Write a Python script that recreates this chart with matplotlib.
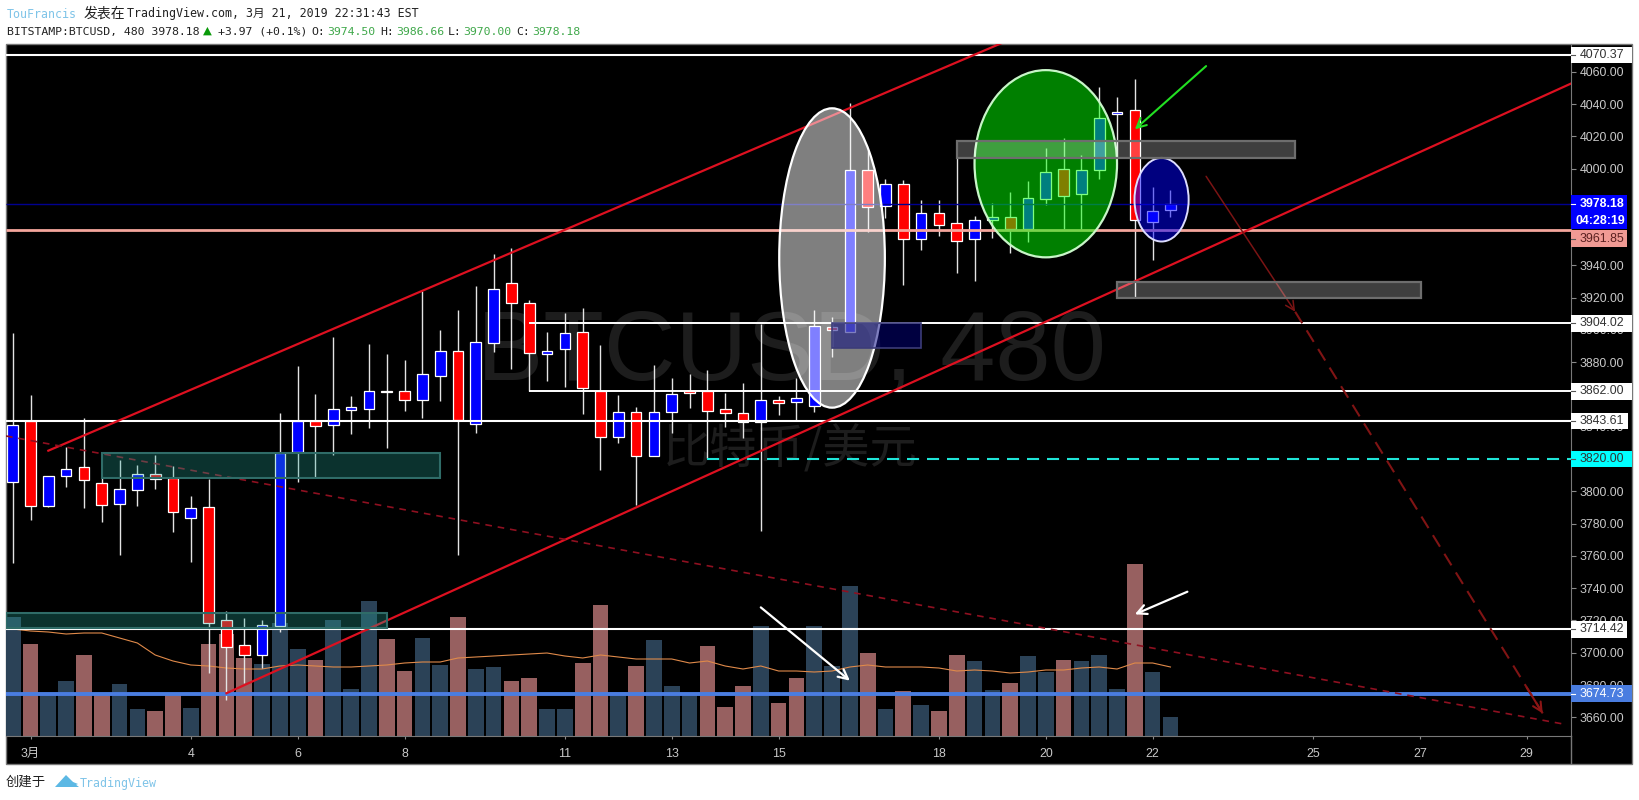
import matplotlib
matplotlib.use("Agg")
import matplotlib.pyplot as plt
from matplotlib.patches import Rectangle, Ellipse, Polygon

W = 1639
H = 800

opens = [3805.6, 3843.5, 3791.1, 3809.7, 3814.9, 3804.9, 3792.3, 3800.8, 3810.7, 3808.0, 3783.4,
         3790.1, 3720.2, 3704.6, 3698.8, 3716.5, 3824.2, 3843.5, 3841.3, 3850.4, 3851.2, 3862.0,
         3862.3, 3856.7, 3871.6, 3886.7, 3841.5, 3892.1, 3928.9, 3916.5, 3885.1, 3888.3, 3898.5,
         3862.0, 3833.8, 3848.9, 3822.0, 3849.3, 3862.1, 3862.0, 3850.8, 3848.3, 3842.7, 3856.6,
         3855.5, 3853.1, 3902.0, 3898.9, 3999.1, 3976.9, 3990.2, 3956.3, 3972.2, 3966.0, 3956.3,
         3968.1, 3970.1, 3962.3, 3980.9, 3999.5, 3984.0, 3998.9, 4033.8, 4036.1, 3967.0, 3974.50]
closes = [3841.1, 3791.1, 3809.7, 3813.6, 3807.0, 3791.7, 3801.2, 3810.5, 3807.4, 3787.4, 3789.5,
          3718.2, 3703.3, 3698.8, 3717.0, 3823.9, 3843.5, 3840.6, 3850.8, 3852.2, 3862.0, 3861.3,
          3856.7, 3872.5, 3886.7, 3844.2, 3892.3, 3925.1, 3916.5, 3885.5, 3886.9, 3897.9, 3864.2,
          3833.8, 3849.3, 3822.0, 3848.9, 3860.1, 3861.1, 3849.9, 3848.7, 3842.7, 3856.4, 3854.9,
          3857.8, 3902.4, 3899.9, 3999.1, 3976.3, 3990.2, 3956.3, 3972.2, 3965.2, 3955.1, 3967.9,
          3970.1, 3962.3, 3981.5, 3998.0, 3983.0, 3998.9, 4031.5, 4035.2, 3968.1, 3973.9, 3978.18]
highs = [3897.9, 3859.7, 3809.7, 3827.3, 3845.6, 3808.2, 3819.4, 3816.3, 3822.5, 3815.7, 3797.1,
         3807.6, 3726.0, 3721.3, 3720.2, 3848.3, 3877.6, 3860.3, 3895.8, 3859.0, 3891.3, 3885.1,
         3881.3, 3924.3, 3899.9, 3912.3, 3927.2, 3947.0, 3950.6, 3918.5, 3898.7, 3910.3, 3913.4,
         3890.6, 3859.7, 3852.4, 3878.2, 3870.4, 3872.7, 3875.1, 3861.1, 3866.9, 3903.6, 3859.0,
         3870.0, 3912.3, 3908.2, 4040.4, 4011.5, 3993.3, 3992.9, 3980.5, 3980.5, 4007.3, 3970.6,
         3978.4, 3985.2, 3992.3, 4012.9, 4018.7, 4008.4, 4050.7, 4044.1, 4055.5, 3988.7, 3986.66]
lows = [3755.4, 3782.2, 3790.3, 3802.5, 3789.5, 3781.2, 3760.5, 3790.9, 3801.2, 3774.8, 3756.0,
        3687.2, 3670.7, 3681.0, 3690.3, 3713.0, 3805.9, 3809.0, 3822.5, 3835.5, 3839.0, 3826.8,
        3849.9, 3845.2, 3855.8, 3760.5, 3836.3, 3886.5, 3875.6, 3862.0, 3868.3, 3864.4, 3847.9,
        3813.0, 3829.7, 3791.5, 3822.0, 3836.3, 3851.6, 3820.4, 3840.0, 3832.8, 3775.4, 3847.3,
        3844.2, 3849.1, 3883.4, 3898.7, 3960.8, 3969.1, 3927.8, 3949.5, 3958.2, 3935.1, 3930.5,
        3956.7, 3947.5, 3954.3, 3977.4, 3962.3, 3962.3, 3993.3, 4007.3, 3919.6, 3943.3, 3970.00]
volumes = [119, 92, 41, 55, 81, 42, 52, 27, 25, 41, 28, 92, 102, 78, 72, 113, 87, 76, 116, 47, 135, 97,
           65, 98, 71, 119, 67, 69, 55, 58, 27, 27, 73, 131, 44, 70, 96, 50, 43, 90, 29, 50, 110, 33,
           58, 110, 70, 150, 83, 27, 45, 31, 25, 81, 75, 46, 53, 80, 64, 76, 75, 81, 47, 172, 64, 19]
volume_ma = [107, 105, 104, 102, 103, 103, 98, 93, 81, 75, 71, 70, 68, 67, 67, 70, 71, 70, 69, 69, 70, 71,
             73, 74, 74, 78, 79, 80, 81, 82, 83, 80, 78, 81, 79, 77, 77, 77, 73, 75, 70, 67, 70, 65,
             65, 64, 65, 69, 71, 69, 69, 69, 68, 65, 66, 65, 63, 64, 66, 66, 68, 69, 67, 73, 73, 69]
volume_dirs = ("uduudduuddu" "dddu" "uuduuu" "dduuduudduuddud" "uuuddduddu" "uud" "ududd" "uuduud" "uuuduu")

x_ticks = [1, 10, 16, 22, 31, 37, 43, 52, 58, 64, 73, 79, 85]
x_labels = ["3月", "4", "6", "8", "11", "13", "15", "18", "20", "22", "25", "27", "29"]
y_ticks = list(range(3660, 4061, 20))
# these tick labels sit fully under a price label box
y_covered = [3820, 3860, 3960, 3980]

last_price = 3978.18
level_pink = 3961.85
level_blue = 3674.73
level_cyan = 3820.00
white_full = [4070.37, 3843.61, 3714.42]
white_rays = [3904.02, 3862.00]

BLUE = "#0000ff"
RED = "#ff0000"
TICK = "#c8c8c8"
SANS = ["Liberation Sans", "Noto Sans CJK SC"]
MONO = ["DejaVu Sans Mono", "Noto Sans CJK SC"]


def px(x, y):
    return x / W, 1 - y / H


fig = plt.figure(figsize=(W / 100, H / 100), dpi=100, facecolor="white")

# black panel behind chart and price scale
x0, y0 = px(6, 763.5)
x1, y1 = px(1632.5, 43.5)
fig.patches.append(Rectangle((x0, y0), x1 - x0, y1 - y0, transform=fig.transFigure,
                             facecolor="black", edgecolor="#787878", lw=1, zorder=0))

left, bottom = px(6, 736)
right, top = px(1570.7, 43.5)
pos = [left, bottom, right - left, top - bottom]

ax_vol = fig.add_axes(pos, zorder=1)
ax = fig.add_axes(pos, zorder=2)
ax.patch.set_visible(False)

n = len(closes)
xs = list(range(n))
xlim = (-0.376, 87.47)

# volume pane
vol_colors = ["#2b4257" if d == "u" else "#976060" for d in volume_dirs]
ax_vol.bar(xs, volumes, width=0.88, color=vol_colors, zorder=3)
ax_vol.plot(xs, volume_ma, color="#e08a4a", lw=0.8, zorder=4)
ax_vol.set_xlim(xlim)
ax_vol.set_ylim(0, 692.5)
ax_vol.axis("off")
ax_vol.text(*px(791, 380), "BTCUSD, 480", transform=fig.transFigure, ha="center", va="baseline",
            fontsize=71.5, color="#1d1d1d", family="Liberation Sans", zorder=1)
ax_vol.text(*px(790, 450), "比特币/美元", transform=fig.transFigure, ha="center", va="center",
            fontsize=34, color="#1d1d1d", family="Noto Sans CJK SC", zorder=1)

ax.set_xlim(xlim)
ax.set_ylim(3648.4, 4077.5)

# candles
ax.vlines(xs, lows, highs, color="#e4e4e4", lw=1, zorder=3)
for i in xs:
    o = opens[i]
    c = closes[i]
    col = BLUE if c >= o else RED
    ax.bar(i, abs(c - o), bottom=min(o, c), width=0.6, color=col, edgecolor="white", lw=0.9, zorder=3.5)

# horizontal levels
ax.hlines(white_full, xlim[0], xlim[1], color="white", lw=1.5, zorder=4)
ax.hlines(white_rays, 29, xlim[1], color="white", lw=1.4, zorder=4)
ax.hlines(last_price, xlim[0], xlim[1], color="#000090", lw=1, zorder=4)
ax.hlines(level_pink, xlim[0], xlim[1], color="#f4a59c", lw=2, zorder=4)
ax.hlines(level_blue, xlim[0], xlim[1], color="#4a7de0", lw=2.8, zorder=4)
ax.plot([39, xlim[1]], [level_cyan, level_cyan], color="#1fe5d8", lw=1.5, ls=(0, (5.8, 3.8)), zorder=4)

# trend channel and dashed lines
ax.plot([2, 56], [3825.2, 4080], color="#dd1020", lw=1.6, zorder=4.2)
ax.plot([12, xlim[1]], [3674.9, 4052.6], color="#dd1020", lw=1.6, zorder=4.2)
ax.plot([xlim[0], 87.16], [3834.3, 3655.6], color="#8e1020", lw=1.2, ls=(0, (4, 3.5)), zorder=4.2)
ax.plot([72, 85.9], [3911.3, 3662.4], color="#801414", lw=1.5, ls=(0, (6.5, 4)), zorder=4.2)
ax.annotate("", xy=(85.9, 3662.4), xytext=(85.0, 3678.5), zorder=4.2,
            arrowprops=dict(arrowstyle="->", color="#8b1515", lw=1.5, mutation_scale=16, shrinkA=0, shrinkB=0))
ax.annotate("", xy=(72, 3911.3), xytext=(67, 3995.2), zorder=4.2,
            arrowprops=dict(arrowstyle="->", color="#7a1414", lw=1.1, mutation_scale=16, shrinkA=0, shrinkB=0))

# arrows
ax.annotate("", xy=(47, 3682.7), xytext=(42, 3728.1), zorder=6,
            arrowprops=dict(arrowstyle="->", color="white", lw=1.6, mutation_scale=17, shrinkA=0, shrinkB=0))
ax.annotate("", xy=(63, 3723.8), xytext=(65.95, 3737.8), zorder=6,
            arrowprops=dict(arrowstyle="->", color="white", lw=1.6, mutation_scale=17, shrinkA=0, shrinkB=0))
ax.annotate("", xy=(63, 4024.3), xytext=(67, 4063.5), zorder=6,
            arrowprops=dict(arrowstyle="->", color="#22e022", lw=1.5, mutation_scale=17, shrinkA=0, shrinkB=0))

# boxes
ax.add_patch(Rectangle((53, 4006.7), 19, 10.4, fc=(1, 1, 1, 0.25), ec="#6e6e6e", lw=1.6, zorder=5.2))
ax.add_patch(Rectangle((62, 3919.6), 17.05, 9.9, fc=(1, 1, 1, 0.25), ec="#6e6e6e", lw=1.6, zorder=5.2))
ax.add_patch(Rectangle((46, 3888.6), 5, 15.5, fc=(0, 0, 0.5, 0.5), ec="#3c3c78", lw=1.2, zorder=5.2))
ax.add_patch(Rectangle((5, 3808.4), 19, 15.5, fc=(0.15, 0.65, 0.6, 0.3), ec="#2f6c68", lw=1.5, zorder=5.2))
ax.add_patch(Rectangle((xlim[0], 3715.1), 21.37, 9.7, fc=(0.15, 0.65, 0.6, 0.3), ec="#2f6c68", lw=1.5, zorder=5.2))

# ellipses
ax.add_patch(Ellipse((46, 3944.6), 5.93, 185.5, fc=(1, 1, 1, 0.5), ec="white", lw=1.6, zorder=5))
ax.add_patch(Ellipse((58, 4003), 8.0, 116, fc=(0, 1, 0, 0.5), ec="#c8f5c8", lw=1.6, zorder=5))
ax.add_patch(Ellipse((64.5, 3980.7), 3.04, 51.8, fc=(0, 0, 1, 0.5), ec="#dcdcff", lw=1.4, zorder=5))

# axes look
for s in ["top", "left"]:
    ax.spines[s].set_visible(False)
ax.spines["bottom"].set_color("#787878")
ax.spines["right"].set_color("#787878")
ax.yaxis.tick_right()
ax.set_yticks(y_ticks)
ax.set_yticklabels(["" if v in y_covered else "%.2f" % v for v in y_ticks], fontsize=8.9, color=TICK, family=SANS)
ax.set_xticks(x_ticks)
ax.set_xticklabels(x_labels, fontsize=8.9, color=TICK, family=SANS)
ax.tick_params(axis="y", length=3.6, width=0.8, color="#8a8a8a", pad=3)
ax.tick_params(axis="x", length=2.5, width=0.8, color="#8a8a8a", pad=6)
fig.add_artist(plt.Line2D([1570.7 / W, 1570.7 / W], [1 - 763 / H, 1 - 736 / H], color="#787878", lw=1))

# price scale labels
scale_prices = [4070.37, 3904.02, 3862.00, 3843.61, 3820.00, 3714.42, 3674.73, 3978.18, 3961.85]
scale_text_y = [4070.37, 3904.02, 3862.00, 3843.61, 3820.00, 3714.42, 3674.73, 3978.18, 3956.6]
scale_right = [1632, 1632, 1632, 1628, 1632, 1627, 1632, 1627, 1627]
scale_fill = ["white", "white", "white", "white", "#00ffff", "white", "#4a7de0", BLUE, "#f09a94"]
scale_color = ["#333333"] * 6 + ["white", "white", "#5a2020"]
trans = ax.get_yaxis_transform()
span = 1570.7 - 6
for v, ty, rgt, fc, tc in zip(scale_prices, scale_text_y, scale_right, scale_fill, scale_color):
    ax.add_patch(Rectangle((1.0, ty - 5.2), (rgt - 1570.7) / span, 10.4, transform=trans,
                           fc=fc, ec="none", clip_on=False, zorder=8))
    bold = "bold" if tc == "white" and fc == BLUE else "normal"
    ax.text((1580 - 6) / span, ty, "%.2f" % v, transform=trans, va="center", ha="left", color=tc,
            fontsize=8.9, fontweight=bold, family=SANS, clip_on=False, zorder=9)
    ax.plot([1.0, (1575 - 6) / span], [ty, ty], transform=trans, color=tc if fc in (BLUE, "#4a7de0") else "#555555",
            lw=0.8, clip_on=False, zorder=9)
ax.add_patch(Rectangle((1.0, 3967.6 - 5.2), (1627 - 1570.7) / span, 10.4, transform=trans,
                       fc=BLUE, ec="none", clip_on=False, zorder=8))
ax.text((1575 - 6) / span, 3967.6, "04:28:19", transform=trans, va="center", ha="left", color="white",
        fontsize=8.9, fontweight="bold", family=SANS, clip_on=False, zorder=9)

# header
fig.text(*px(7, 14), "TouFrancis", color="#7fc4e8", fontsize=8.4, family=MONO, va="center")
fig.text(*px(84, 14), "发表在", color="#222222", fontsize=10, family=MONO, va="center")
fig.text(*px(127, 14), "TradingView.com, 3月 21, 2019 22:31:43 EST", color="#222222", fontsize=8.4,
         family=MONO, va="center")
fig.text(*px(7, 32), "BITSTAMP:BTCUSD, 480 3978.18", color="#222222", fontsize=8.25, family=MONO, va="center")
fig.text(*px(203, 31), "▲", color="#0a9a0a", fontsize=8.25, family="DejaVu Sans", va="center")
fig.text(*px(218, 32), "+3.97 (+0.1%)", color="#222222", fontsize=8.25, family=MONO, va="center")
for name, xn, value, xv in [("O:", 311, "3974.50", 327.5), ("H:", 380, "3986.66", 396),
                            ("L:", 447.5, "3970.00", 463), ("C:", 516, "3978.18", 532)]:
    fig.text(*px(xn, 32), name, color="#222222", fontsize=8.25, family=MONO, va="center")
    fig.text(*px(xv, 32), value, color="#3fa84a", fontsize=8.25, family=MONO, va="center")

# footer
fig.text(*px(6, 782), "创建于", color="#222222", fontsize=9.6, family="Noto Sans CJK SC", va="center")
logo = [(55, 787), (66, 775), (73, 782), (78, 784), (71, 787)]
logo2 = [(61, 787), (70, 780), (75, 784), (79, 787)]
fig.patches.append(Polygon([px(*p) for p in logo], transform=fig.transFigure, fc="#5cb8e4", ec="none"))
fig.patches.append(Polygon([px(*p) for p in logo2], transform=fig.transFigure, fc="#5cb8e4", ec="none"))
fig.text(*px(80, 783), "TradingView", color="#7fc4e8", fontsize=8.4, family=MONO, va="center")

fig.savefig("out.png", dpi=100, facecolor="white")
